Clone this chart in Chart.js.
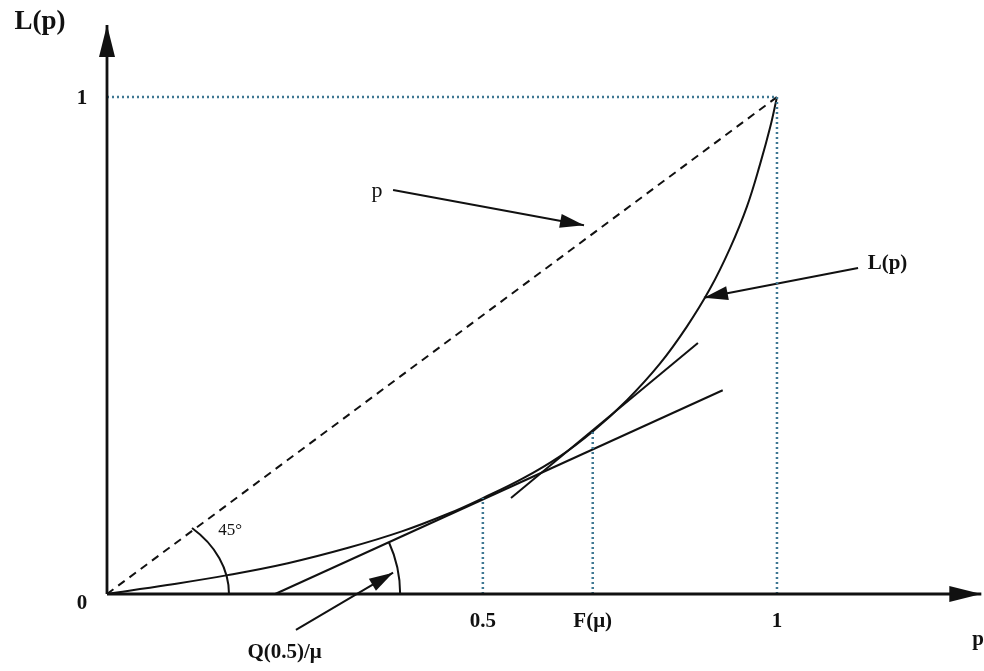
<!DOCTYPE html>
<html>
<head>
<meta charset="utf-8">
<script src="https://cdn.jsdelivr.net/npm/chart.js@4/dist/chart.umd.min.js"></script>
<style>
  html, body { margin: 0; padding: 0; background: #fff; }
  canvas { display: block; }
</style>
</head>
<body>
<canvas id="lorenz" width="984" height="671"></canvas>
<script>
// Lorenz curve L(p)
const curveP = [0, 0.09, 0.18, 0.27, 0.36, 0.44, 0.51, 0.561, 0.62, 0.676, 0.725, 0.776, 0.825, 0.865, 0.90, 0.93, 0.955, 0.975, 0.99, 1];
const curveL = [0, 0.018, 0.038, 0.062, 0.093, 0.126, 0.162, 0.193, 0.232, 0.277, 0.327, 0.390, 0.463, 0.537, 0.614, 0.696, 0.779, 0.866, 0.940, 1];

// line of equality
const diagP = [0, 1];
const diagL = [0, 1];

// tangent at p = 0.5 (slope Q(0.5)/mu) and tangent at F(mu) (slope 1)
const tanHalfP = [0.251, 0.919];
const tanHalfL = [0, 0.410];
const tanMuP = [0.603, 0.882];
const tanMuL = [0.193, 0.505];

// marked positions on the p axis and the height of their guide lines
const tickPos = [0.561, 0.725, 1];
const tickLabels = ['0.5', 'F(\u03bc)', '1'];
const guideTop = [0.193, 0.330, 1];

const ink = '#111';
const dotted = '#3f7893';

const pts = (xs, ys) => xs.map((v, i) => ({ x: v, y: ys[i] }));

const line = (data, extra) => Object.assign({
  data: data,
  showLine: true,
  borderColor: ink,
  borderWidth: 2,
  pointRadius: 0,
  fill: false,
  clip: false
}, extra || {});

const dots = { borderColor: dotted, borderDash: [2, 3], borderWidth: 2.5 };

const datasets = [
  // axes with arrows
  line([{ x: 0, y: 0 }, { x: 0, y: 1.145 }], { borderWidth: 2.8, arrow: { len: 32, half: 8 } }),
  line([{ x: 0, y: 0 }, { x: 1.305, y: 0 }], { borderWidth: 2.8, arrow: { len: 32, half: 8 } }),
  // dotted guides
  line([{ x: 0, y: 1 }, { x: 1, y: 1 }], dots),
  line([{ x: 1, y: 1 }, { x: 1, y: 0 }], dots),
  ...tickPos.slice(0, 2).map((v, i) =>
    line([{ x: v, y: 0 }, { x: v, y: guideTop[i] }], dots)),
  // p (equality line)
  line(pts(diagP, diagL), { borderDash: [8, 6] }),
  // L(p)
  line(pts(curveP, curveL), { tension: 0.4 }),
  // tangents
  line(pts(tanHalfP, tanHalfL)),
  line(pts(tanMuP, tanMuL)),
  // pointer arrows
  line([{ x: 0.427, y: 0.813 }, { x: 0.712, y: 0.742 }], { arrow: { len: 24, half: 7 } }),
  line([{ x: 1.121, y: 0.656 }, { x: 0.891, y: 0.596 }], { arrow: { len: 24, half: 7 } }),
  line([{ x: 0.282, y: -0.072 }, { x: 0.427, y: 0.043 }], { arrow: { len: 24, half: 7 } })
];

const overlay = {
  id: 'overlay',
  afterDatasetsDraw(chart) {
    const ctx = chart.ctx;
    const sx = chart.scales.x, sy = chart.scales.y;
    const X = v => sx.getPixelForValue(v);
    const Y = v => sy.getPixelForValue(v);
    ctx.save();

    // arrowheads
    ctx.fillStyle = ink;
    chart.data.datasets.forEach(ds => {
      if (!ds.arrow) return;
      const a = ds.data[ds.data.length - 2], b = ds.data[ds.data.length - 1];
      const x0 = X(a.x), y0 = Y(a.y), x1 = X(b.x), y1 = Y(b.y);
      const ang = Math.atan2(y1 - y0, x1 - x0);
      const c = Math.cos(ang), s = Math.sin(ang);
      const bx = x1 - c * ds.arrow.len, by = y1 - s * ds.arrow.len;
      ctx.beginPath();
      ctx.moveTo(x1, y1);
      ctx.lineTo(bx - s * ds.arrow.half, by + c * ds.arrow.half);
      ctx.lineTo(bx + s * ds.arrow.half, by - c * ds.arrow.half);
      ctx.closePath();
      ctx.fill();
    });

    // angle arcs
    ctx.strokeStyle = ink;
    ctx.lineWidth = 2;
    ctx.beginPath();
    ctx.ellipse(X(0), Y(0), 122, 92, 0, -0.80, 0);
    ctx.stroke();
    const tAng = Math.atan2(Y(tanHalfL[1]) - Y(tanHalfL[0]), X(tanHalfP[1]) - X(tanHalfP[0]));
    ctx.beginPath();
    ctx.arc(X(tanHalfP[0]), Y(0), 125, tAng, 0);
    ctx.stroke();

    // texts
    ctx.fillStyle = ink;
    ctx.textAlign = 'center';
    ctx.textBaseline = 'middle';
    ctx.font = 'bold 27px "Liberation Serif", "DejaVu Serif", serif';
    ctx.fillText('L(p)', 40, 22);
    ctx.font = 'bold 21px "Liberation Serif", "DejaVu Serif", serif';
    ctx.fillText('1', X(0) - 25, Y(1) + 2);
    ctx.fillText('0', X(0) - 25, Y(0) + 10);
    tickLabels.forEach((t, i) => ctx.fillText(t, X(tickPos[i]), Y(0) + 28));
    ctx.fillText('p', X(1.3), Y(0) + 46);
    ctx.fillText('L(p)', X(1.165), Y(0.665));
    ctx.fillText('Q(0.5)/\u03bc', X(0.265), Y(-0.117));
    ctx.font = '22px "Liberation Serif", "DejaVu Serif", serif';
    ctx.fillText('p', X(0.403), Y(0.81));
    ctx.font = '17px "Liberation Serif", "DejaVu Serif", serif';
    ctx.fillText('45\u00b0', X(0.184), Y(0.127));
    ctx.restore();
  }
};

new Chart(document.getElementById('lorenz').getContext('2d'), {
  type: 'scatter',
  data: { datasets: datasets },
  options: {
    responsive: false,
    animation: false,
    events: [],
    layout: { padding: 0 },
    plugins: { legend: { display: false }, tooltip: { enabled: false } },
    scales: {
      x: { type: 'linear', display: false, min: -0.1597, max: 1.309 },
      y: { type: 'linear', display: false, min: -0.1549, max: 1.1952 }
    }
  },
  plugins: [overlay]
});
</script>
</body>
</html>
